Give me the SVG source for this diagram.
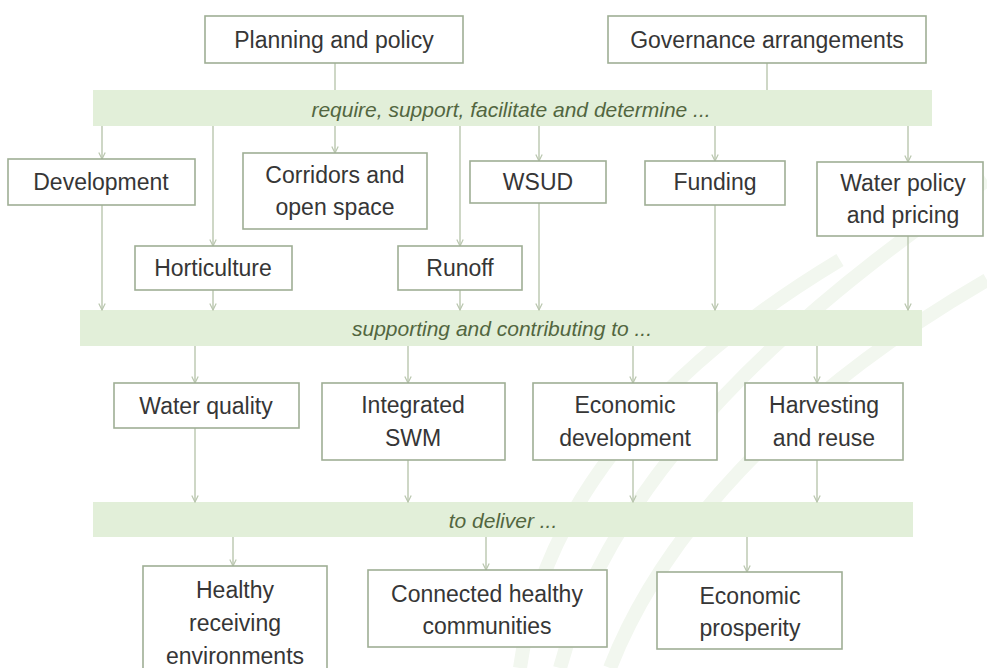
<svg xmlns="http://www.w3.org/2000/svg" width="987" height="668" viewBox="0 0 987 668">
<style>
.box{fill:#ffffff;stroke:#9fae95;stroke-width:1.6}
.band{fill:#e2efd9}
.t{font-family:"Liberation Sans",Arial,sans-serif;font-size:23px;fill:#363636;text-anchor:middle;dominant-baseline:central}
.bt{font-family:"Liberation Sans",Arial,sans-serif;font-size:21px;font-style:italic;fill:#52663f;text-anchor:middle;dominant-baseline:central}
.c{stroke:#b9c6ae;stroke-width:1.4;fill:none}
.a{marker-end:url(#arr)}
.wm{fill:none;stroke:#f2f7ef;stroke-width:14}
</style>
<defs>
<marker id="arr" viewBox="0 0 10 10" refX="9" refY="5" markerWidth="8" markerHeight="8" markerUnits="userSpaceOnUse" orient="auto">
<path d="M1,1 L9,5 L1,9" fill="none" stroke="#b9c6ae" stroke-width="1.5"/>
</marker>
</defs>
<rect width="987" height="668" fill="#ffffff"/>
<g id="watermark">
<path class="wm" d="M560,668 C600,520 720,360 987,180"/>
<path class="wm" d="M610,668 C660,540 780,400 987,280"/>
<path class="wm" d="M520,668 C540,520 640,380 840,260"/>
</g>
<g id="bands">
<rect id="band1" class="band" x="93" y="90" width="839" height="36"/>
<text class="bt" x="511" y="109">require, support, facilitate and determine ...</text>
<rect id="band2" class="band" x="80" y="310" width="842" height="36"/>
<text class="bt" x="502" y="328">supporting and contributing to ...</text>
<rect id="band3" class="band" x="93" y="502" width="820" height="35"/>
<text class="bt" x="503" y="520">to deliver ...</text>
</g>
<g id="connectors">
<line class="c" x1="335" y1="63" x2="335" y2="90"/>
<line class="c" x1="767" y1="63" x2="767" y2="90"/>
<line class="c a" x1="102" y1="126" x2="102" y2="159"/>
<line class="c a" x1="213" y1="126" x2="213" y2="246"/>
<line class="c a" x1="335" y1="126" x2="335" y2="153"/>
<line class="c a" x1="460" y1="126" x2="460" y2="246"/>
<line class="c a" x1="539" y1="126" x2="539" y2="161"/>
<line class="c a" x1="715" y1="126" x2="715" y2="161"/>
<line class="c a" x1="908" y1="126" x2="908" y2="162"/>
<line class="c a" x1="102" y1="205" x2="102" y2="310"/>
<line class="c a" x1="213" y1="290" x2="213" y2="310"/>
<line class="c a" x1="460" y1="290" x2="460" y2="310"/>
<line class="c a" x1="539" y1="203" x2="539" y2="310"/>
<line class="c a" x1="715" y1="205" x2="715" y2="310"/>
<line class="c a" x1="908" y1="236" x2="908" y2="310"/>
<line class="c a" x1="195" y1="346" x2="195" y2="383"/>
<line class="c a" x1="408" y1="346" x2="408" y2="383"/>
<line class="c a" x1="633" y1="346" x2="633" y2="383"/>
<line class="c a" x1="817" y1="346" x2="817" y2="383"/>
<line class="c a" x1="195" y1="428" x2="195" y2="502"/>
<line class="c a" x1="408" y1="460" x2="408" y2="502"/>
<line class="c a" x1="633" y1="460" x2="633" y2="502"/>
<line class="c a" x1="817" y1="460" x2="817" y2="502"/>
<line class="c a" x1="233" y1="537" x2="233" y2="566"/>
<line class="c a" x1="486" y1="537" x2="486" y2="570"/>
<line class="c a" x1="747" y1="537" x2="747" y2="572"/>
</g>
<g id="planning"><rect class="box" x="205" y="16" width="258" height="47"/><text class="t" x="334" y="40">Planning and policy</text></g>
<g id="governance"><rect class="box" x="608" y="16" width="318" height="47"/><text class="t" x="767" y="40">Governance arrangements</text></g>
<g id="development"><rect class="box" x="8" y="159" width="187" height="46"/><text class="t" x="101" y="182">Development</text></g>
<g id="corridors"><rect class="box" x="243" y="153" width="184" height="76"/><text class="t" x="335" y="175">Corridors and</text><text class="t" x="335" y="207">open space</text></g>
<g id="wsud"><rect class="box" x="470" y="161" width="136" height="42"/><text class="t" x="538" y="182">WSUD</text></g>
<g id="funding"><rect class="box" x="645" y="161" width="140" height="44"/><text class="t" x="715" y="182">Funding</text></g>
<g id="waterpolicy"><rect class="box" x="817" y="162" width="166" height="74"/><text class="t" x="903" y="183">Water policy</text><text class="t" x="903" y="215">and pricing</text></g>
<g id="horticulture"><rect class="box" x="135" y="246" width="157" height="44"/><text class="t" x="213" y="268">Horticulture</text></g>
<g id="runoff"><rect class="box" x="398" y="246" width="124" height="44"/><text class="t" x="460" y="268">Runoff</text></g>
<g id="waterquality"><rect class="box" x="114" y="383" width="185" height="45"/><text class="t" x="206" y="406">Water quality</text></g>
<g id="integrated"><rect class="box" x="322" y="383" width="183" height="77"/><text class="t" x="413" y="405">Integrated</text><text class="t" x="413" y="438">SWM</text></g>
<g id="economicdev"><rect class="box" x="533" y="383" width="184" height="77"/><text class="t" x="625" y="405">Economic</text><text class="t" x="625" y="438">development</text></g>
<g id="harvesting"><rect class="box" x="745" y="383" width="158" height="77"/><text class="t" x="824" y="405">Harvesting</text><text class="t" x="824" y="438">and reuse</text></g>
<g id="healthy"><rect class="box" x="143" y="566" width="184" height="110"/><text class="t" x="235" y="590">Healthy</text><text class="t" x="235" y="623">receiving</text><text class="t" x="235" y="656">environments</text></g>
<g id="connected"><rect class="box" x="368" y="570" width="239" height="77"/><text class="t" x="487" y="594">Connected healthy</text><text class="t" x="487" y="626">communities</text></g>
<g id="prosperity"><rect class="box" x="657" y="572" width="185" height="77"/><text class="t" x="750" y="596">Economic</text><text class="t" x="750" y="628">prosperity</text></g>
</svg>
